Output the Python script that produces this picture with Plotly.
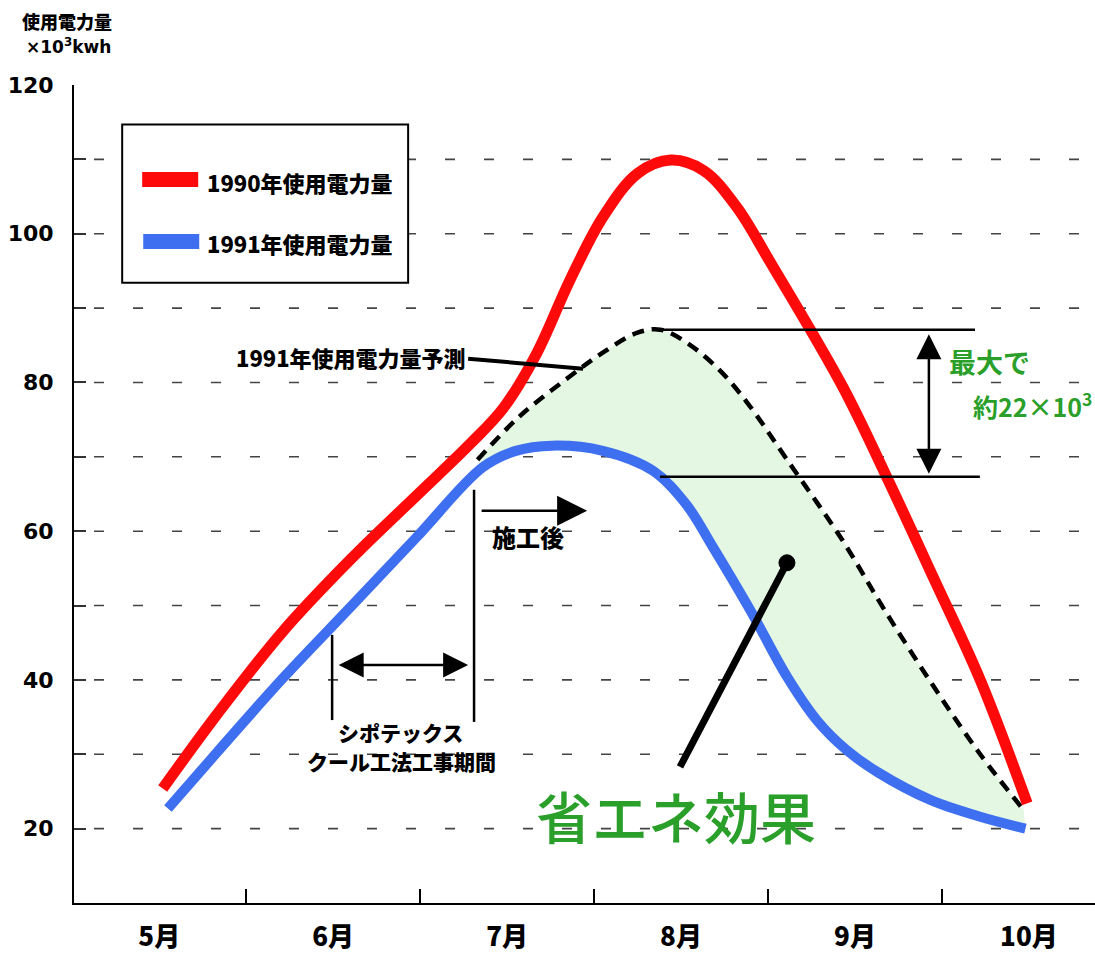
import plotly.graph_objects as go

# ---------------- data ----------------
MONTH_POS = [5, 6, 7, 8, 9, 10]
MONTH_LABELS = ["5月", "6月", "7月", "8月", "9月", "10月"]
MONTH_DIVIDERS = [5.5, 6.5, 7.5, 8.5, 9.5]

Y_TICKS = [20, 40, 60, 80, 100, 120]
Y_TICK_TEXT = ["20", "40", "60", "80", "100", "120"]
Y_MINOR_TICKS = [30, 50, 70, 90, 110]
GRID_VALUES = [20, 30, 40, 50, 60, 70, 80, 90, 100, 110]

# 1990 usage (x10^3 kWh)
RED_X = [5.02, 5.33, 5.71, 6.10, 6.48, 6.79, 6.98, 7.17, 7.36, 7.55, 7.75, 7.94,
         8.13, 8.32, 8.51, 8.93, 9.19, 9.45, 9.72, 9.99]
RED_Y = [25.4, 35.3, 46.5, 56.2, 64.8, 71.8, 76.6, 83.9, 93.7, 102.2, 108.1, 109.9,
         108.5, 103.6, 96.3, 79.4, 66.9, 53.8, 40.0, 23.4]

# 1991 usage
BLUE_X = [5.05, 5.33, 5.71, 6.10, 6.48, 6.86, 7.05, 7.26, 7.55, 7.84, 8.03, 8.18,
          8.40, 8.61, 8.78, 8.95, 9.13, 9.43, 9.72, 9.98]
BLUE_Y = [22.7, 30.2, 40.2, 49.8, 59.2, 68.6, 70.8, 71.5, 70.8, 68.1, 63.6, 58.0,
          49.3, 40.4, 34.6, 30.6, 27.6, 23.9, 21.6, 20.0]

# 1991 forecast (dashed)
FC_X = [6.83, 7.07, 7.36, 7.55, 7.75, 7.88, 8.03, 8.22, 8.38, 8.61, 8.93, 9.17,
        9.45, 9.72, 9.97]
FC_Y = [69.6, 75.4, 80.8, 84.0, 86.7, 87.1, 85.4, 81.7, 77.3, 69.6, 58.7, 49.4,
        39.2, 30.0, 22.5]

FILL_START = 5  # index in BLUE where the saving region begins

RED = "#ff0a0a"
BLUE = "#3d6ff0"
GREEN = "#2a9f2a"
FILL = "#e4f7e2"
JP = "Noto Sans CJK JP"

fig = go.Figure()

# fill base (blue after construction) – invisible
fig.add_trace(go.Scatter(x=BLUE_X[FILL_START:], y=BLUE_Y[FILL_START:], mode="lines",
                         line=dict(width=0, shape="spline", color=BLUE),
                         hoverinfo="skip", showlegend=False))
# forecast dashed with fill to blue
fig.add_trace(go.Scatter(x=FC_X, y=FC_Y, mode="lines", fill="tonexty", fillcolor=FILL,
                         line=dict(color="black", width=4.5, dash="12px,8px", shape="spline"),
                         name="1991年使用電力量予測", showlegend=False))
fig.add_trace(go.Scatter(x=RED_X, y=RED_Y, mode="lines",
                         line=dict(color=RED, width=11, shape="spline"),
                         name="1990年使用電力量", showlegend=False))
fig.add_trace(go.Scatter(x=BLUE_X, y=BLUE_Y, mode="lines",
                         line=dict(color=BLUE, width=10, shape="spline"),
                         name="1991年使用電力量", showlegend=False))

XMIN, XMAX = 4.51, 10.38
GRID_X0 = 4.625

shapes = []
for v in GRID_VALUES:
    shapes.append(dict(type="line", xref="x", yref="y", x0=GRID_X0, x1=XMAX, y0=v, y1=v,
                       line=dict(color="#444", width=1.6, dash="10px,29px"), layer="below"))

def seg(x0, y0, x1, y1, w=2.5, color="black"):
    return dict(type="line", xref="x", yref="y", x0=x0, y0=y0, x1=x1, y1=y1,
                line=dict(color=color, width=w), layer="above")

# legend box
shapes.append(dict(type="rect", xref="x", yref="y", x0=4.787, x1=6.431, y0=93.42, y1=114.69,
                   line=dict(color="black", width=2), fillcolor="white", layer="above"))
shapes.append(seg(4.902, 107.28, 5.224, 107.28, w=15, color=RED))
shapes.append(seg(4.908, 98.94, 5.230, 98.94, w=15, color=BLUE))

# construction period markers
shapes.append(seg(6.810, 65.57, 6.810, 34.35, w=2.5))
shapes.append(seg(5.994, 46.06, 5.994, 34.6, w=2.5))
# forecast label pointer
shapes.append(seg(6.776, 83.2, 7.437, 81.85, w=4))
# max difference bracket
shapes.append(seg(7.879, 87.1, 9.690, 87.1, w=2.5))
shapes.append(seg(7.879, 67.32, 9.718, 67.32, w=2.5))
# 省エネ効果 pointer
shapes.append(seg(7.994, 28.3, 8.609, 55.75, w=7))
shapes.append(dict(type="circle", xref="x", yref="y", xsizemode="pixel", ysizemode="pixel",
                   xanchor=8.609, yanchor=55.75, x0=-8, x1=8, y0=-8, y1=8,
                   fillcolor="black", line=dict(color="black", width=1), layer="above"))

def txt(x, y, text, size, color="black", weight=900, xanchor="center", family=JP,
        xref="x", yref="y"):
    return dict(x=x, y=y, xref=xref, yref=yref, text=text, showarrow=False,
                xanchor=xanchor, yanchor="middle",
                font=dict(family=family, size=size, color=color, weight=weight))

def arrow(x, y, ax, ay, both=False, size=2.0):
    return dict(x=x, y=y, ax=ax, ay=ay, xref="x", yref="y", axref="x", ayref="y",
                text="", showarrow=True, arrowhead=2, arrowsize=size, arrowwidth=2.5,
                arrowcolor="black", arrowside="end+start" if both else "end",
                standoff=0, startstandoff=0)

annotations = [
    txt(-0.0069, 1.078, "使用電力量", 18, xref="paper", yref="paper"),
    txt(-0.0049, 1.048, "×10<sup>3</sup>kwh", 17, family="DejaVu Sans", weight="bold",
        xref="paper", yref="paper"),
    txt(5.264, 106.9, "1990年使用電力量", 22, xanchor="left"),
    txt(5.264, 98.8, "1991年使用電力量", 22, xanchor="left"),
    txt(6.103, 83.47, "1991年使用電力量予測", 22),
    txt(7.121, 59.25, "施工後", 24),
    txt(6.385, 33.0, "シポテックス", 21),
    txt(6.39, 29.1, "クール工法工事期間", 21),
    txt(9.776, 82.8, "最大で", 27, color=GREEN, weight=700),
    txt(10.375, 77.0, "約22×10<sup>3</sup>", 25, color=GREEN, weight=700, xanchor="right"),
    txt(7.971, 21.9, "省エネ効果", 56, color=GREEN, weight=500),
    arrow(6.776, 42.0, 6.023, 42.0, both=True),
    arrow(7.46, 62.75, 6.845, 62.75, size=2.4),
    arrow(9.425, 67.73, 9.425, 86.7, both=True),
]

fig.update_layout(
    width=1095, height=959,
    margin=dict(l=74, r=0, t=85, b=56),
    plot_bgcolor="white", paper_bgcolor="white",
    showlegend=False,
    shapes=shapes, annotations=annotations,
    xaxis=dict(range=[XMIN, XMAX], showline=True, linecolor="black", linewidth=2,
               showgrid=False, zeroline=False, automargin=False,
               tickmode="array", tickvals=MONTH_POS, ticktext=MONTH_LABELS, ticks="",
               ticklabelstandoff=10,
               tickfont=dict(family=JP, size=26, color="black", weight=900),
               minor=dict(tickvals=MONTH_DIVIDERS, ticks="inside", ticklen=14,
                          tickwidth=2, tickcolor="black", showgrid=False)),
    yaxis=dict(range=[10, 120], showline=True, linecolor="black", linewidth=2,
               showgrid=False, zeroline=False, automargin=False,
               tickmode="array", tickvals=Y_TICKS, ticktext=Y_TICK_TEXT,
               ticks="inside", ticklen=12, tickwidth=1.6, tickcolor="#333",
               ticklabelstandoff=14,
               tickfont=dict(family="DejaVu Sans", size=22, color="black", weight="bold"),
               minor=dict(tickvals=Y_MINOR_TICKS, ticks="inside", ticklen=12,
                          tickwidth=1.6, tickcolor="#333", showgrid=False)),
)

fig.write_html("out.html", config={"displayModeBar": False},
               post_script="document.body.style.margin='0';document.body.style.overflow='hidden';")
